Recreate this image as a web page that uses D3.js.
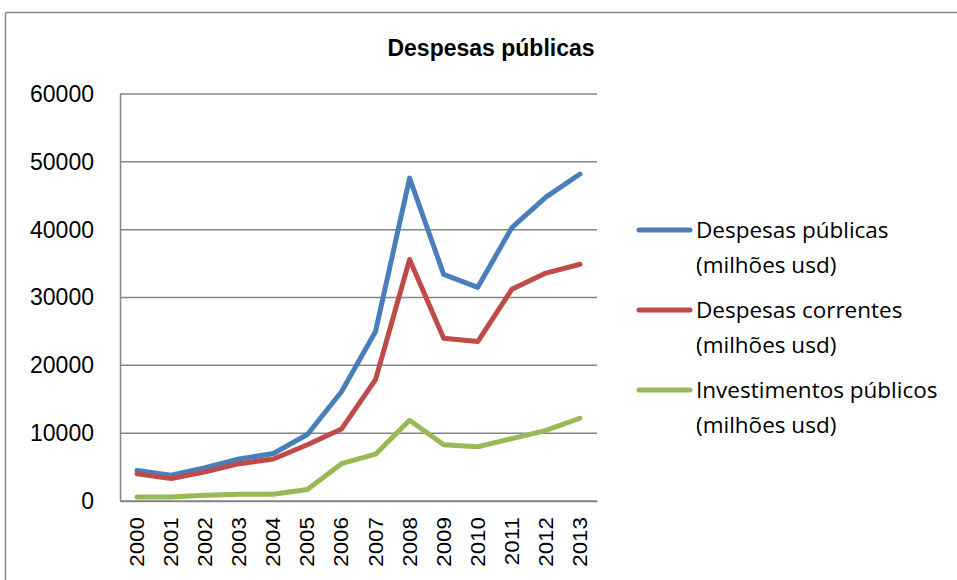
<!DOCTYPE html>
<html>
<head>
<meta charset="utf-8">
<script src="https://cdn.jsdelivr.net/npm/d3@7"></script>
<style>
  body { margin: 0; background: #fff; }
</style>
</head>
<body>
<div id="chart"></div>
<script>
const years = ["2000","2001","2002","2003","2004","2005","2006","2007","2008","2009","2010","2011","2012","2013"];
const despesasPublicas = [4500, 3800, 4900, 6200, 7000, 9800, 16100, 25000, 47600, 33400, 31500, 40300, 44800, 48200];
const despesasCorrentes = [4000, 3300, 4300, 5500, 6200, 8300, 10600, 17900, 35600, 24000, 23500, 31200, 33600, 34900];
const investimentos = [600, 600, 850, 1000, 1000, 1700, 5500, 6900, 11900, 8300, 8000, 9200, 10400, 12200];
const yTicks = [0, 10000, 20000, 30000, 40000, 50000, 60000];

const seriesNames = ["Despesas públicas", "Despesas correntes", "Investimentos públicos"];
const seriesColors = ["#4A7EBB", "#BE4B48", "#98B954"];

const width = 957, height = 580;
const margin = { top: 94, right: 360, bottom: 79, left: 120 };
const innerWidth = width - margin.left - margin.right;
const innerHeight = height - margin.top - margin.bottom;

const svg = d3.select("#chart").append("svg")
  .attr("width", width)
  .attr("height", height)
  .style("display", "block");

// outer frame: left and top edges only
svg.append("line")
  .attr("x1", 5.5).attr("x2", 5.5)
  .attr("y1", 12.5).attr("y2", height)
  .attr("stroke", "#868686")
  .attr("stroke-width", 1.5);
svg.append("line")
  .attr("x1", 5.5).attr("x2", width)
  .attr("y1", 12.5).attr("y2", 12.5)
  .attr("stroke", "#868686")
  .attr("stroke-width", 1.5);

svg.append("text")
  .attr("x", 491)
  .attr("y", 56)
  .attr("text-anchor", "middle")
  .attr("font-family", "Liberation Sans, Arial, sans-serif")
  .attr("font-weight", "bold")
  .attr("font-size", 23)
  .text("Despesas públicas");

const g = svg.append("g")
  .attr("transform", `translate(${margin.left},${margin.top})`);

const x = d3.scaleBand().domain(years).range([0, innerWidth]);
const y = d3.scaleLinear().domain([0, 60000]).range([innerHeight, 0]);

// gridlines
g.selectAll("line.grid")
  .data(yTicks)
  .join("line")
    .attr("class", "grid")
    .attr("x1", 0).attr("x2", innerWidth)
    .attr("y1", d => y(d)).attr("y2", d => y(d))
    .attr("stroke", "#868686")
    .attr("stroke-width", 1.5);

// y axis
const yAxis = g.append("g")
  .call(d3.axisLeft(y).tickValues(yTicks).tickSize(0).tickPadding(26).tickFormat(d3.format("d")));
yAxis.select(".domain").attr("stroke", "#868686").attr("stroke-width", 1.5);
yAxis.selectAll("text")
  .attr("font-family", "Liberation Sans, Arial, sans-serif")
  .attr("font-size", 23)
  .attr("fill", "#000");

// x axis
const xAxis = g.append("g")
  .attr("transform", `translate(0,${innerHeight})`)
  .call(d3.axisBottom(x).tickSize(0));
xAxis.select(".domain").attr("stroke", "#868686").attr("stroke-width", 1.5);
xAxis.selectAll("text")
  .attr("font-family", "Liberation Sans, Arial, sans-serif")
  .attr("font-size", 20)
  .attr("fill", "#000")
  .attr("text-anchor", "end")
  .attr("dy", "0.35em")
  .attr("transform", "translate(0,16) rotate(-90) scale(1.12,1)")
  .attr("y", 0)
  .attr("x", 0);

// lines
const allSeries = [despesasPublicas, despesasCorrentes, investimentos];
const line = d3.line()
  .x((d, i) => x(years[i]) + x.bandwidth() / 2)
  .y(d => y(d));

g.selectAll("path.series")
  .data(allSeries)
  .join("path")
    .attr("class", "series")
    .attr("d", line)
    .attr("fill", "none")
    .attr("stroke", (d, i) => seriesColors[i])
    .attr("stroke-width", 5)
    .attr("stroke-linejoin", "round")
    .attr("stroke-linecap", "round");

// legend
const legend = svg.append("g").attr("transform", "translate(639,230)");
seriesNames.forEach((name, i) => {
  const row = legend.append("g").attr("transform", `translate(0,${i * 80})`);
  row.append("line")
    .attr("x1", 0).attr("x2", 51)
    .attr("y1", 0).attr("y2", 0)
    .attr("stroke", seriesColors[i])
    .attr("stroke-width", 5)
    .attr("stroke-linecap", "round");
  const t = row.append("text")
    .attr("x", 57)
    .attr("y", 8)
    .attr("font-family", "Open Sans, Noto Sans, sans-serif")
    .attr("font-size", 22.5)
    .attr("fill", "#000");
  t.append("tspan").attr("x", 57).text(name);
  t.append("tspan").attr("x", 57).attr("dy", 35).text("(milhões usd)");
});
</script>
</body>
</html>
